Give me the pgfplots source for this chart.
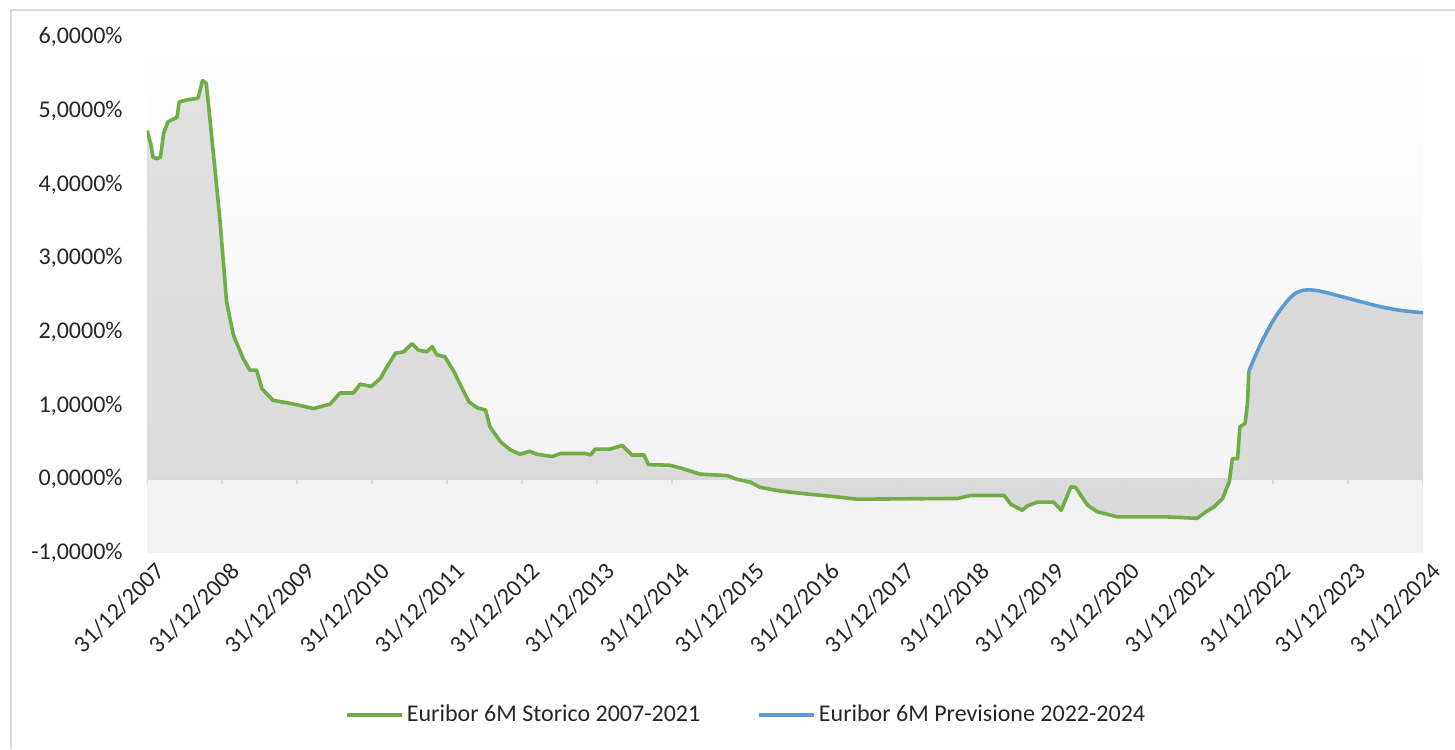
\documentclass[border=0pt]{standalone}
\usepackage{fontspec}
\setmainfont{Carlito}
\usepackage{pgfplots}
\usepackage{pgfplotstable}
\pgfplotsset{compat=1.18}

\definecolor{eugreen}{HTML}{70AD47}
\definecolor{eublue}{HTML}{5B9BD5}
\definecolor{framegray}{HTML}{D9D9D9}
\definecolor{areagray}{HTML}{DADADA}
\definecolor{areatop}{HTML}{E1E1E1}
\definecolor{bgneg}{HTML}{F2F2F2}
\definecolor{bglow}{HTML}{F4F4F4}

% Euribor 6M, x = fractional year (2008 = 31/12/2007), y in %
\pgfplotstableread{
x y
2008.00 4.73
2008.05 4.55
2008.08 4.37
2008.13 4.35
2008.18 4.37
2008.22 4.69
2008.28 4.85
2008.40 4.91
2008.43 5.12
2008.55 5.15
2008.68 5.17
2008.74 5.41
2008.79 5.37
2008.86 4.67
2008.97 3.54
2009.06 2.41
2009.15 1.96
2009.28 1.64
2009.37 1.48
2009.46 1.48
2009.53 1.23
2009.68 1.07
2009.91 1.03
2010.22 0.96
2010.40 1.01
2010.44 1.02
2010.57 1.17
2010.75 1.17
2010.84 1.29
2010.99 1.26
2011.11 1.37
2011.17 1.48
2011.31 1.71
2011.42 1.73
2011.53 1.84
2011.62 1.75
2011.73 1.73
2011.80 1.80
2011.86 1.69
2011.97 1.66
2012.09 1.46
2012.20 1.23
2012.29 1.05
2012.40 0.97
2012.51 0.94
2012.57 0.71
2012.71 0.51
2012.84 0.40
2012.97 0.34
2013.10 0.38
2013.19 0.34
2013.40 0.31
2013.51 0.35
2013.84 0.35
2013.91 0.33
2013.97 0.41
2014.17 0.41
2014.33 0.46
2014.46 0.33
2014.62 0.33
2014.68 0.20
2014.97 0.19
2015.15 0.14
2015.37 0.07
2015.73 0.05
2015.86 0.00
2016.04 -0.04
2016.17 -0.11
2016.44 -0.16
2016.80 -0.20
2017.11 -0.23
2017.46 -0.27
2018.80 -0.26
2018.97 -0.22
2019.42 -0.22
2019.51 -0.34
2019.66 -0.42
2019.73 -0.36
2019.86 -0.31
2020.08 -0.31
2020.18 -0.42
2020.31 -0.10
2020.37 -0.11
2020.53 -0.35
2020.66 -0.44
2020.93 -0.51
2021.59 -0.51
2021.99 -0.53
2022.11 -0.44
2022.22 -0.37
2022.33 -0.26
2022.42 -0.03
2022.46 0.28
2022.53 0.28
2022.56 0.71
2022.63 0.76
2022.66 1.01
2022.68 1.47
}\storico

\pgfplotstableread{
x y
2022.68 1.47
2022.84 1.84
2023.02 2.18
2023.20 2.43
2023.33 2.54
2023.46 2.57
2023.64 2.55
2023.91 2.48
2024.17 2.41
2024.44 2.34
2024.71 2.29
2025.00 2.26
}\previsione

\begin{document}
\begin{tikzpicture}
\useasboundingbox (0pt,0pt) rectangle (727.5pt,374.5pt);
\draw[framegray, line width=1pt] (5.5pt,0pt) -- (5.5pt,369.5pt) -- (727.5pt,369.5pt);
\begin{axis}[
  at={(73.5pt,98pt)}, anchor=south west,
  scale only axis, width=638pt, height=258pt,
  xmin=2008, xmax=2025, ymin=-1, ymax=6,
  axis line style={draw=none},
  major tick length=0pt,
  xtick={2008,...,2025},
  xticklabels={31/12/2007,31/12/2008,31/12/2009,31/12/2010,31/12/2011,31/12/2012,
    31/12/2013,31/12/2014,31/12/2015,31/12/2016,31/12/2017,31/12/2018,
    31/12/2019,31/12/2020,31/12/2021,31/12/2022,31/12/2023,31/12/2024},
  ytick={-1,0,...,6},
  /pgf/number format/.cd, fixed, fixed zerofill, precision=4, use comma,
    assume math mode=true,
  /pgfplots/.cd,
  yticklabel={\pgfmathprintnumber{\tick}\%},
  tick label style={font=\fontsize{12}{14}\selectfont, text=black!85},
  yticklabel style={anchor=east, inner sep=0pt, xshift=-12pt},
  xticklabel style={rotate=45, anchor=north east, inner sep=0pt, yshift=-5pt},
  legend style={draw=none, fill=none, at={(0.470,-0.314)}, anchor=center,
    font=\fontsize{12}{14}\selectfont, text=black!85,
    /tikz/every even column/.append style={column sep=27pt},
    nodes={inner sep=1.5pt}},
  legend columns=2,
  legend image code/.code={\draw[#1] (0pt,0pt) -- (27.5pt,0pt);},
]
\fill[top color=white, bottom color=bglow] (axis cs:2008,0) rectangle (axis cs:2025,6);
\fill[bgneg] (axis cs:2008,-1) rectangle (axis cs:2025,0);

\addplot[draw=none, top color=areatop, bottom color=areagray, forget plot]
  table[x=x, y=y] {\storico} \closedcycle;
\addplot[draw=none, fill=areagray, forget plot]
  table[x=x, y=y] {\previsione} \closedcycle;

\draw[framegray, line width=1pt] (axis cs:2008,0) -- (axis cs:2025,0);
\pgfplotsinvokeforeach{2008,...,2025}{
  \draw[framegray, line width=1pt] (axis cs:#1,0) -- ++(0pt,-2.5pt);
}

\addplot[eugreen, line width=1.8pt, line join=round] table[x=x, y=y] {\storico};
\addlegendentry{Euribor 6M Storico 2007-2021}
\addplot[eublue, line width=1.8pt, smooth, line join=round] table[x=x, y=y] {\previsione};
\addlegendentry{Euribor 6M Previsione 2022-2024}
\end{axis}
\end{tikzpicture}
\end{document}
